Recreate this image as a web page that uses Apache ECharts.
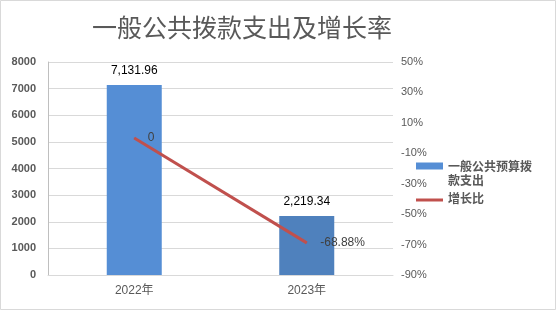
<!DOCTYPE html>
<html>
<head>
<meta charset="utf-8">
<script src="https://cdn.jsdelivr.net/npm/echarts@6/dist/echarts.min.js"></script>
<style>html,body{margin:0;padding:0;background:#fff;}#c{width:556px;height:310px;}</style>
</head>
<body>
<div id="c"></div>
<script>
const categories = ['2022年', '2023年'];
const expenditure = [7131.96, 2219.34];
const growthRate = [0, -68.88];
const barColors = ['#558ED5', '#4F81BD'];
const titleText = '一般公共拨款支出及增长率';
const barName = '一般公共预算拨款支出';
const lineName = '增长比';

const FONT = '"Liberation Sans", "Noto Sans CJK SC", sans-serif';
const chart = echarts.init(document.getElementById('c'), null, {renderer: 'canvas'});
chart.setOption({
  animation: false,
  backgroundColor: '#fff',
  title: {
    text: titleText,
    left: 87, top: 10,
    textStyle: {fontFamily: '"Noto Sans CJK SC"', fontSize: 25, fontWeight: 'normal', color: '#595959'}
  },
  graphic: [{
    type: 'rect', shape: {x: 0.5, y: 0.5, width: 555, height: 309},
    style: {fill: 'none', stroke: '#D9D9D9', lineWidth: 1}, silent: true
  }],
  legend: {
    orient: 'vertical', left: 416, top: 143, padding: 0,
    itemWidth: 27, itemHeight: 7, itemGap: 4,
    data: [
      {name: barName, icon: 'rect'},
      {name: lineName, icon: 'path://M0,0H27V3H0Z'}
    ],
    formatter: function (n) { return n === barName ? '{s|}\n{t|一般公共预算拨}\n{t|款支出}' : '{t|' + n + '}'; },
    textStyle: {fontFamily: FONT, fontSize: 12, fontWeight: 'bold', color: '#595959', lineHeight: 14,
      rich: {
        s: {lineHeight: 18, fontSize: 12},
        t: {fontFamily: FONT, fontSize: 12, fontWeight: 'bold', color: '#595959', lineHeight: 14}
      }}
  },
  grid: {left: 48, right: 163, top: 62, bottom: 35},
  xAxis: {
    type: 'category', data: categories,
    axisLine: {lineStyle: {color: '#D9D9D9'}},
    axisTick: {show: false},
    axisLabel: {fontFamily: FONT, fontSize: 12, color: '#595959', margin: 10}
  },
  yAxis: [{
    type: 'value', min: 0, max: 8000, interval: 1000,
    axisLine: {show: true, lineStyle: {color: '#BFBFBF'}},
    axisTick: {show: false},
    splitLine: {lineStyle: {color: '#D9D9D9'}},
    axisLabel: {fontFamily: FONT, fontSize: 11, fontWeight: 'bold', color: '#595959', margin: 12,
      formatter: function (v) { return String(v); }}
  }, {
    type: 'value', min: -90, max: 50, interval: 20,
    axisLine: {show: false}, axisTick: {show: false}, splitLine: {show: false},
    axisLabel: {fontFamily: FONT, fontSize: 11, color: '#595959', margin: 8,
      formatter: function (v) { return v + '%'; }}
  }],
  series: [{
    name: barName, type: 'bar', barWidth: 55, yAxisIndex: 0,
    data: expenditure.map(function (v, i) { return {value: v, itemStyle: {color: barColors[i]}}; }),
    itemStyle: {color: barColors[0]},
    label: {show: true, position: 'top', distance: 8, fontFamily: FONT, fontSize: 12, color: '#000',
      formatter: function (p) { return p.value.toLocaleString('en-US', {minimumFractionDigits: 2, maximumFractionDigits: 2}); }}
  }, {
    name: lineName, type: 'line', yAxisIndex: 1, data: growthRate,
    symbol: 'circle', symbolSize: 1, showSymbol: true,
    lineStyle: {color: '#C0504D', width: 3}, itemStyle: {color: '#C0504D'},
    label: {show: true, position: 'right', distance: 13, fontFamily: FONT, fontSize: 12, color: '#404040',
      formatter: function (p) { return p.value === 0 ? '0' : p.value + '%'; }}
  }]
});
</script>
</body>
</html>
